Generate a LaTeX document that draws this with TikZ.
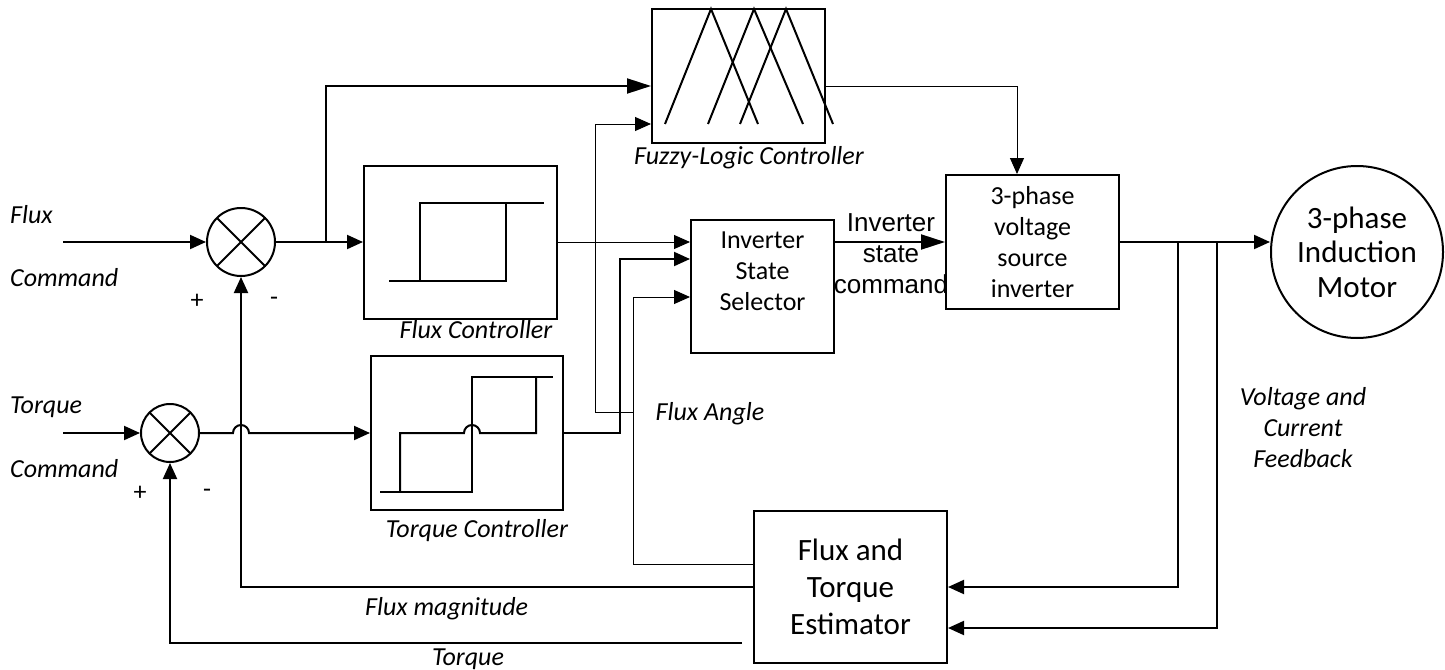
\documentclass[tikz,border=0pt]{standalone}
\usepackage{fontspec}
\setmainfont{Carlito}
\newfontfamily\arialfont{Liberation Sans}
\usetikzlibrary{arrows.meta, positioning}

\begin{document}
\begin{tikzpicture}[
    x=1pt, y=-1pt,
    >={Triangle[length=16pt, width=14pt]},
    wire/.style={line width=2pt},
    thinwire/.style={line width=1pt},
    longtip/.style={-{Triangle[length=24pt, width=15pt]}},
    block/.style={
        rectangle,
        draw,
        line width=2pt,
        inner sep=0pt,
        align=center,
        font=\fontsize{26}{31}\selectfont
    },
    sumjunc/.style={
        circle,
        draw,
        line width=2pt,
        inner sep=0pt,
        path picture={
            \draw[line width=2pt]
                (path picture bounding box.north west) -- (path picture bounding box.south east)
                (path picture bounding box.north east) -- (path picture bounding box.south west);
        }
    },
    lbl/.style={font=\fontsize{26}{31}\selectfont\itshape, inner sep=0pt, align=center},
    sign/.style={font=\fontsize{26}{31}\selectfont, inner sep=0pt, align=center}
]
\useasboundingbox (0,0) rectangle (1445,669);

% blocks
\node[block, minimum width=173pt, minimum height=134pt] (fuzzy) at (738.5,76) {};
\node[block, minimum width=193pt, minimum height=153pt] (fluxc) at (460.5,242) {};
\node[block, minimum width=192pt, minimum height=154pt] (torqc) at (467,433) {};
\node[block, minimum width=143pt, minimum height=133pt] (iss) at (762.5,286.5) {};
\node[sign] (isstext) at (762.5,271) {Inverter\\State\\Selector};
\node[block] (vsi) [minimum width=173pt, minimum height=134pt] at (1032.5,242) {3-phase\\voltage\\source\\inverter};
\node[block, minimum width=193pt, minimum height=152pt, font=\fontsize{31}{37}\selectfont] (est) at (850.5,587) {Flux and\\Torque\\Estimator};
\node[circle, draw, line width=2pt, inner sep=0pt, minimum size=172pt, align=center,
    font=\fontsize{31}{34.5}\selectfont] (motor) at (1357,252) {3-phase\\Induction\\Motor};

\node[sumjunc, minimum size=68pt] (sumF) at (241,242) {};
\node[sumjunc, minimum size=58pt] (sumT) at (170,433) {};

\coordinate (fluxin) at (63,242);
\coordinate (torqin) at (63,433);
\coordinate (fbr) at (326,242);
\coordinate (angbr) at (633,412);
\coordinate (vbr1) at (1178,242);
\coordinate (vbr2) at (1217,242);

% fuzzy membership functions
\draw[wire] (665,124) -- (711,9) -- (758,124);
\draw[wire] (708,124) -- (754,9) -- (803,124);
\draw[wire] (740,124) -- (786,9) -- (833,124);

% hysteresis curves
\draw[wire] (389,281) -- (506,281) -- (506,203);
\draw[wire] (420,281) -- (420,203) -- (544,203);
\draw[wire] (380,492) -- (472,492) -- (472,377) -- (553,377);
\draw[wire] (400,492) -- (400,433) -- (464,433) arc[start angle=180, end angle=0, radius=8pt] -- (536,433) -- (536,377);

% forward paths
\draw[wire,->] (fluxin) -- (sumF.west);
\draw[wire,->] (sumF.east) -- (fluxc.west);
\draw[wire,longtip] (fbr) |- ([yshift=-10pt]fuzzy.west);
\draw[wire,->] (torqin) -- (sumT.west);
\draw[wire,->] (sumT.east) -- (233,433) arc[start angle=180, end angle=0, radius=8pt] -- (torqc.west);
\draw[thinwire,->] (fluxc.east) -- (fluxc.east -| iss.west);
\draw[wire,->] (torqc.east) -| (620,259) -- (iss.west |- 0,259);
\draw[wire,longtip] (iss.east |- vsi.west) -- (vsi.west);
\draw[thinwire,->] ([yshift=-10pt]fuzzy.east) -| ([xshift=-15.5pt]vsi.north);
\draw[wire,->] (vsi.east) -- (vsi.east -| motor.west);

% feedback paths
\draw[wire,->] (vbr1) |- (est.east);
\draw[wire,->] (vbr2) |- ([yshift=-41pt]est.east);
\draw[wire,->] (est.west) -| (sumF.south);
\draw[wire,->] ([xshift=-11pt,yshift=-56pt]est.west) -| (sumT.south);
\draw[thinwire,->] ([yshift=23pt]est.west) -| (633,297) -- (iss.west |- 0,297);
\draw[thinwire,->] (angbr) -| (595,124) -- (fuzzy.west |- 0,124);

% labels
\node[font=\arialfont\fontsize{26}{31}\selectfont, align=center, inner sep=0pt] (cmdlbl) at (891,254) {Inverter\\state\\command};
\node[lbl, anchor=west] (fluxcmd1) at (10,215) {Flux};
\node[lbl, anchor=west] (fluxcmd2) at (10,278) {Command};
\node[lbl, anchor=west] (torqcmd1) at (10,407) {Torque};
\node[lbl, anchor=west] (torqcmd2) at (10,469) {Command};
\node[sign] (plusF) at (197,301) {+};
\node[sign] (minusF) at (274,301) {-};
\node[sign] (plusT) at (140,493) {+};
\node[sign] (minusT) at (207,493) {-};
\node[lbl] (fuzzylbl) at (749,158) {Fuzzy-Logic Controller};
\node[lbl] (fluxclbl) at (476,330) {Flux Controller};
\node[lbl] (torqclbl) at (477,531) {Torque Controller};
\node[lbl] (anglbl) at (710,414) {Flux Angle};
\node[lbl, anchor=west] (maglbl) at (365,609) {Flux magnitude};
\node[lbl] (torqlbl) at (468,659) {Torque};
\node[lbl] (fblbl) at (1303,428) {Voltage and\\Current\\Feedback};

\end{tikzpicture}
\end{document}
